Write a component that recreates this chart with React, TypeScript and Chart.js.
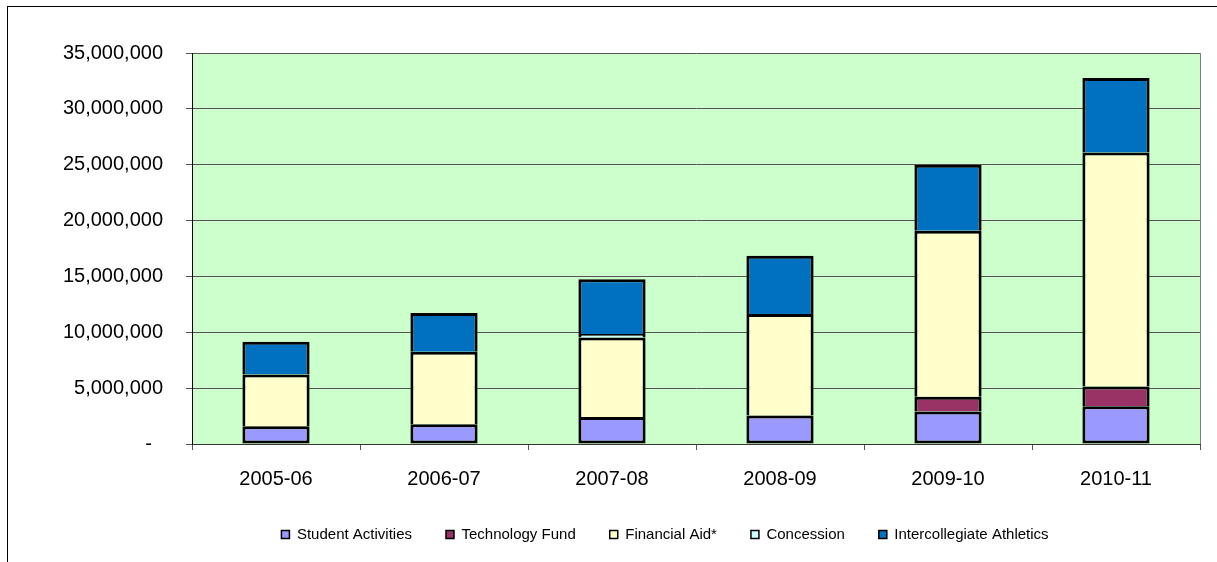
import React, { useEffect, useRef } from "react";
import { Chart, registerables } from "chart.js";

Chart.register(...registerables);

const categories = ["2005-06", "2006-07", "2007-08", "2008-09", "2009-10", "2010-11"];
const studentActivities = [1590000, 1770000, 2420000, 2540000, 2900000, 3380000];
const technologyFund = [null, null, null, null, 1320000, 1760000];
const financialAid = [4630000, 6490000, 7120000, 9100000, 14870000, 20960000];
const concession = [null, null, 310000, null, null, null];
const intercollegiateAthletics = [2940000, 3470000, 4900000, 5210000, 5910000, 6660000];

const seriesNames = ["Student Activities", "Technology Fund", "Financial Aid*", "Concession", "Intercollegiate Athletics"];
const seriesColors = ["#9999FF", "#993366", "#FFFFCC", "#CCFFFF", "#0070C0"];

const FONT = "'Liberation Sans', Arial, sans-serif";

const plotBackground = {
  id: "plotBackground",
  beforeDraw(chart: any) {
    const { ctx, chartArea } = chart;
    ctx.save();
    ctx.fillStyle = "#CCFFCC";
    ctx.fillRect(chartArea.left, chartArea.top, chartArea.right - chartArea.left, chartArea.bottom - chartArea.top);
    ctx.restore();
  },
  beforeDatasetsDraw(chart: any) {
    const { ctx, chartArea } = chart;
    ctx.save();
    ctx.strokeStyle = "#808080";
    ctx.lineWidth = 1;
    ctx.beginPath();
    ctx.moveTo(Math.round(chartArea.right) + 0.5, chartArea.top);
    ctx.lineTo(Math.round(chartArea.right) + 0.5, chartArea.bottom);
    ctx.stroke();
    ctx.restore();
  },
};

export default function App() {
  const ref = useRef<HTMLCanvasElement>(null);

  useEffect(() => {
    const values = [studentActivities, technologyFund, financialAid, concession, intercollegiateAthletics];
    const chart = new Chart(ref.current!, {
      type: "bar",
      data: {
        labels: categories,
        datasets: values.map((v, i) => ({
          label: seriesNames[i],
          data: v,
          backgroundColor: seriesColors[i],
          borderColor: "#000000",
          borderWidth: 3,
          borderSkipped: i === 0 ? false : "start",
          barPercentage: 0.4,
          categoryPercentage: 1,
          yAxisID: "y",
        })),
      },
      options: {
        responsive: false,
        animation: false,
        layout: { padding: { left: 40, right: 0, top: 46, bottom: 24 } },
        plugins: {
          tooltip: { enabled: false },
          legend: {
            position: "bottom",
            labels: {
              color: "#000",
              font: { family: FONT, size: 15 },
              boxWidth: 8,
              boxHeight: 8,
              padding: 34,
              generateLabels: (c: any) =>
                Chart.defaults.plugins.legend.labels.generateLabels(c).map((l: any) => ({
                  ...l,
                  lineWidth: 1.5,
                  strokeStyle: "#000",
                })),
            },
          },
        },
        scales: {
          x: {
            stacked: true,
            afterFit: (s: any) => {
              s.height = 49;
            },
            grid: {
              drawOnChartArea: false,
              offset: true,
              tickLength: 6,
              color: "#555",
            },
            border: { display: true, color: "#333", width: 1 },
            ticks: {
              color: "#000",
              font: { family: FONT, size: 20 },
              padding: 17,
              maxRotation: 0,
            },
          },
          y: {
            stacked: true,
            min: 0,
            max: 35000000,
            afterFit: (s: any) => {
              s.width = 144;
            },
            grid: {
              color: "#555",
              lineWidth: 1,
              tickLength: 6,
              drawTicks: true,
            },
            border: { display: true, color: "#000", width: 1 },
            ticks: {
              stepSize: 5000000,
              color: "#000",
              font: { family: FONT, size: 20 },
              padding: 23,
              callback: (v: any) => (Number(v) === 0 ? "-  " : Number(v).toLocaleString("en-US")),
            },
          },
          spacer: {
            type: "linear",
            position: "right",
            display: true,
            afterFit: (s: any) => {
              s.width = 82;
            },
            grid: { display: false, drawTicks: false },
            border: { display: false },
            ticks: { display: false },
          },
        },
      },
      plugins: [plotBackground],
    });
    return () => chart.destroy();
  }, []);

  return (
    <div
      style={{
        position: "absolute",
        left: 7,
        top: 6,
        width: 1210,
        height: 556,
        borderLeft: "1px solid #000",
        borderTop: "1px solid #000",
        overflow: "hidden",
        background: "#fff",
      }}
    >
      <canvas ref={ref} width={1274} height={569} style={{ display: "block" }} />
    </div>
  );
}
